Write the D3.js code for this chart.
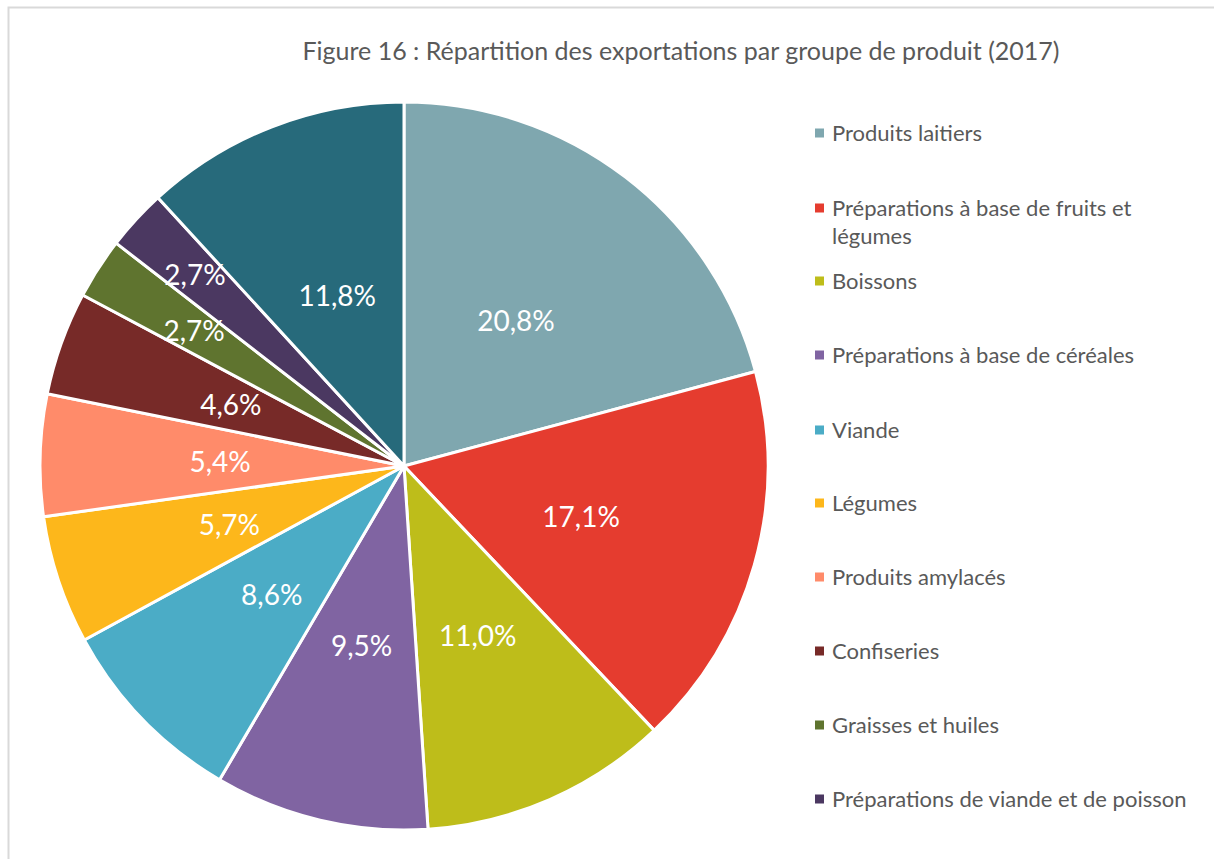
<!DOCTYPE html>
<html>
<head>
<meta charset="utf-8">
<script src="https://cdn.jsdelivr.net/npm/d3@7"></script>
<style>
    body { margin: 0; background: #fff; }
    svg { display: block; font-family: Lato, "Open Sans", sans-serif; }
</style>
</head>
<body>
<div id="chart"></div>
<script>
// Data
const categories = [
    "Produits laitiers",
    "Préparations à base de fruits et légumes",
    "Boissons",
    "Préparations à base de céréales",
    "Viande",
    "Légumes",
    "Produits amylacés",
    "Confiseries",
    "Graisses et huiles",
    "Préparations de viande et de poisson",
    "Autres"
];
const shares = [20.8, 17.1, 11.0, 9.5, 8.6, 5.7, 5.4, 4.6, 2.7, 2.7, 11.8];
const colors = ["#7FA7AF", "#E53C2F", "#BEBD1A", "#8064A2", "#4BACC6", "#FDB71B",
    "#FF8B6A", "#772A28", "#5F742F", "#4B3861", "#276A7B"];
// legend only shows the first ten groups
const legendCount = 10;

const W = 1214, H = 859;
const cx = 404, cy = 466, r = 364;

const svg = d3.select("#chart").append("svg")
    .attr("width", W)
    .attr("height", H);

// chart area border
svg.append("rect")
    .attr("x", 8.5).attr("y", 7.5)
    .attr("width", W + 100).attr("height", H + 100)
    .attr("fill", "none")
    .attr("stroke", "#d9d9d9")
    .attr("stroke-width", 2);

// Title
svg.append("text")
    .attr("x", 681)
    .attr("y", 60)
    .attr("text-anchor", "middle")
    .attr("fill", "#595959")
    .style("font-size", "25px")
    .text("Figure 16 : Répartition des exportations par groupe de produit (2017)");

const data = categories.map((c, i) => ({ name: c, value: shares[i], color: colors[i] }));

const pie = d3.pie().sort(null).value(d => d.value);
const arc = d3.arc().innerRadius(0).outerRadius(r);
const arcs = pie(data);

const g = svg.append("g").attr("transform", `translate(${cx},${cy})`);

g.selectAll("path.slice")
    .data(arcs)
    .join("path")
    .attr("class", "slice")
    .attr("d", arc)
    .attr("fill", d => d.data.color)
    .attr("stroke", "#fff")
    .attr("stroke-width", 3)
    .attr("stroke-linejoin", "round");

// label radius: small slices get pushed outward
const labelR = i => i === 9 ? 284 : i === 8 ? 250 : 184;

g.selectAll("text.lbl")
    .data(arcs)
    .join("text")
    .attr("class", "lbl")
    .attr("transform", d => {
        const a = (d.startAngle + d.endAngle) / 2;
        const rr = labelR(d.index);
        return `translate(${Math.sin(a) * rr},${-Math.cos(a) * rr})`;
    })
    .attr("text-anchor", "middle")
    .attr("dy", "0.4em")
    .attr("fill", "#fff")
    .style("font-size", "28px")
    .text(d => d3.format(".1f")(d.data.value).replace(".", ",") + "%");

// Legend
const legendY = [133, 208, 281, 355, 430, 503, 577, 651, 725, 799];
const legend = svg.append("g");
const items = legend.selectAll("g")
    .data(data.slice(0, legendCount))
    .join("g")
    .attr("transform", (d, i) => `translate(815,${legendY[i]})`);

items.append("rect")
    .attr("x", 0).attr("y", -4.5)
    .attr("width", 9).attr("height", 9)
    .attr("fill", d => d.color);

items.append("text")
    .attr("x", 17)
    .attr("fill", "#595959")
    .style("font-size", "22px")
    .each(function (d) {
        const t = d3.select(this);
        const lines = d.name === "Préparations à base de fruits et légumes"
            ? ["Préparations à base de fruits et", "légumes"] : [d.name];
        lines.forEach((l, k) => {
            t.append("tspan")
                .attr("x", 17)
                .attr("y", k * 28)
                .attr("dy", "0.35em")
                .text(l);
        });
    });
</script>
</body>
</html>
